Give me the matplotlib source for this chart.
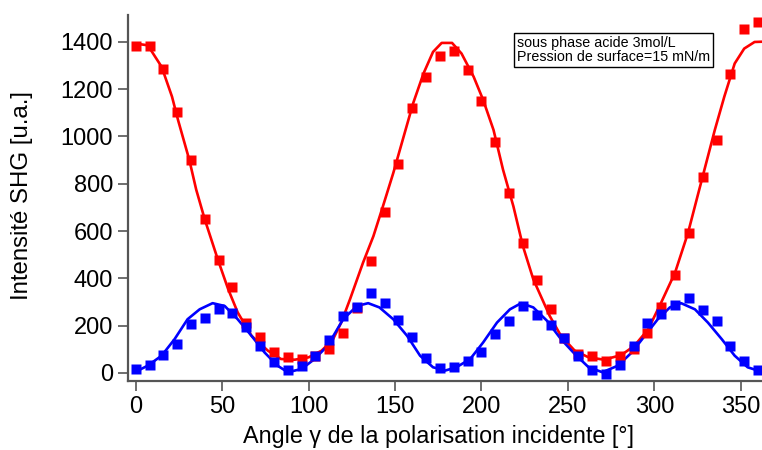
import matplotlib
matplotlib.use("Agg")
import matplotlib.pyplot as plt

plt.rcParams['font.family'] = ['Liberation Sans', 'DejaVu Sans']

# Measured points (angle in degrees)
angles = [0, 8, 16, 24, 32, 40, 48, 56, 64, 72, 80, 88, 96, 104, 112, 120, 128, 136,
          144, 152, 160, 168, 176, 184, 192, 200, 208, 216, 224, 232, 240, 248, 256,
          264, 272, 280, 288, 296, 304, 312, 320, 328, 336, 344, 352, 360]

red_values = [1380, 1383, 1285, 1101, 902, 652, 476, 364, 213, 153, 90, 66, 58, 72, 101,
              169, 275, 474, 680, 885, 1121, 1253, 1340, 1362, 1281, 1150, 976, 760, 551,
              392, 272, 147, 80, 70, 52, 73, 101, 169, 278, 413, 593, 829, 983, 1264, 1452,
              1484]

blue_values = [16, 35, 77, 122, 207, 232, 270, 252, 196, 116, 48, 14, 31, 72, 138, 242,
               277, 340, 296, 224, 151, 64, 20, 25, 50, 90, 165, 221, 284, 245, 203, 147,
               73, 14, -5, 35, 112, 210, 249, 288, 317, 266, 221, 116, 52, 14]

# Fitted curves
red_fit_angles = [0, 7, 15, 21, 24.5, 31, 35, 40, 47.5, 53.5, 59, 67, 76.5, 84, 92, 100,
                  107.5, 114, 119, 124, 131.5, 137.5, 143, 149, 155, 160.5, 166.5, 172,
                  177, 183, 188.5, 195.5, 201, 207, 212.5, 218.5, 224, 230, 236, 239.5,
                  246, 254, 262, 271, 281, 288.5, 296.5, 304, 312, 319.5, 325, 331, 335,
                  340.5, 346.5, 352, 358, 362]
red_fit_values = [1392, 1385, 1294, 1168, 1069, 901, 775, 648, 480, 354, 256, 157, 94, 59,
                  56, 66, 94, 140, 215, 312, 466, 578, 704, 845, 999, 1140, 1266, 1357,
                  1395, 1395, 1350, 1252, 1154, 1027, 859, 704, 536, 396, 298, 241, 157, 94,
                  66, 56, 76, 115, 185, 298, 424, 592, 747, 915, 1027, 1168, 1308, 1371,
                  1399, 1400]

blue_fit_angles = [0, 7, 15, 22.5, 30, 37, 44.5, 51.5, 59, 67, 74.5, 82, 88, 96, 103.5,
                   111, 120, 128, 134.5, 141, 149, 157, 164.5, 172, 179, 185.5, 193.5, 201,
                   209, 216.5, 223, 230, 238, 246, 254, 262, 270, 279, 287, 294.5, 302, 309,
                   315.5, 323.5, 331, 339, 346.5, 354, 360]
blue_fit_values = [5, 31, 73, 143, 227, 269, 295, 283, 227, 157, 87, 31, 3, 17, 59, 115,
                   227, 283, 295, 277, 227, 157, 73, 24, 10, 24, 59, 129, 213, 269, 295,
                   277, 220, 143, 80, 24, 3, 31, 87, 157, 227, 277, 295, 269, 213, 143, 73,
                   24, 10]

x_ticks = [0, 50, 100, 150, 200, 250, 300, 350]
y_ticks = [0, 200, 400, 600, 800, 1000, 1200, 1400]

W, H = 762, 450
fig = plt.figure(figsize=(W / 100, H / 100), dpi=100)
ax = fig.add_axes([128 / W, 1 - 381 / H, (W - 128) / W, (381 - 15) / H])

ax.plot(red_fit_angles, red_fit_values, color='#ff0000', lw=1.9, zorder=2)
ax.plot(blue_fit_angles, blue_fit_values, color='#0000ff', lw=1.9, zorder=2)
ax.plot(angles, red_values, 's', color='#ff0000', ms=7.2, mec='none', zorder=3,
        clip_on=False)
ax.plot(angles, blue_values, 's', color='#0000ff', ms=7.2, mec='none', zorder=4,
        clip_on=False)

ax.set_xlim(-4.45, 362.3)
ax.set_ylim(-34, 1513)
ax.set_xticks(x_ticks)
ax.set_yticks(y_ticks)

for side in ['top', 'right']:
    ax.spines[side].set_visible(False)
for side in ['left', 'bottom']:
    ax.spines[side].set_color('#555555')
    ax.spines[side].set_linewidth(1.6)
ax.tick_params(direction='out', length=7.2, width=1.2, color='#555555',
               labelsize=17, labelcolor='black', pad=3.6)

fig.text(438.5 / W, 1 - 437 / H, 'Angle γ de la polarisation incidente [°]',
         fontsize=16.8, ha='center', va='center')
fig.text(22 / W, 1 - 196 / H, 'Intensité SHG [u.a.]', fontsize=17.3,
         ha='center', va='center', rotation=90)

ax.text((517 - 128) / (W - 128), (381 - 36) / (381 - 15),
        'sous phase acide 3mol/L\nPression de surface=15 mN/m',
        transform=ax.transAxes, fontsize=10.3, va='top', ha='left', linespacing=1.0,
        bbox=dict(boxstyle='square,pad=0.22', fc='white', ec='black', lw=1.0))

fig.savefig('out.png', dpi=100)
